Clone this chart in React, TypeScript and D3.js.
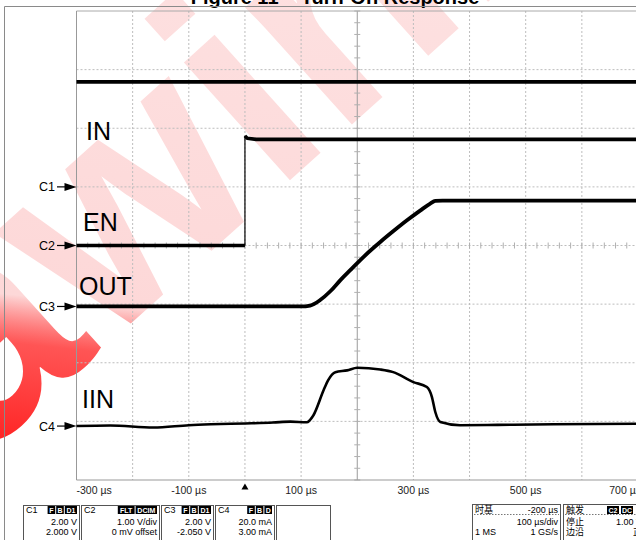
import React from 'react';
import * as d3 from 'd3';

const timeTicks = [-300, -200, -100, 0, 100, 200, 300, 400, 500, 600, 700];
const timeLabels = [-300, -100, 100, 300, 500, 700];

const channelNames = ['C1', 'C2', 'C3', 'C4'];
const channelPerDiv = [2, 1, 2, 20]; // V/div, V/div, V/div, mA/div
const channelZeroDiv = [1.0, 0, -1.04, -3.08]; // zero level, divisions above centre
const traceNames = ['IN', 'EN', 'OUT', 'IIN'];

// IN (C1, V)
const inT = [-300, 700];
const inV = [3.58, 3.58];

// EN (C2, V)
const enLowT = [-300, 0];
const enLowV = [0, 0];
const enHighT = [0, 4, 20, 700];
const enHighV = [1.87, 1.83, 1.81, 1.81];

// OUT (C3, V)
const outT = [-300, 100, 116, 134, 152, 170, 188, 200, 223, 241, 265, 288, 312, 330, 339, 352, 700];
const outV = [0, 0, 0.03, 0.22, 0.52, 0.9, 1.25, 1.48, 1.9, 2.2, 2.58, 2.93, 3.27, 3.51, 3.6, 3.61, 3.61];

// IIN (C4, mA)
const iinT = [-300, -240, -163, -100, -61, 0, 50, 81, 110, 122, 140, 148, 161, 182, 200, 241, 264, 300, 324, 333, 339, 348, 383, 450, 550, 700];
const iinMA = [0, 0.2, -0.5, 0.3, 0.6, 0.9, 1.2, 1.5, 1.3, 3.7, 12.2, 15.6, 18.4, 19.0, 19.9, 19.3, 18.4, 15.0, 13.3, 9.9, 4.8, 1.4, 0.3, 0.4, 0.6, 0.8];

// info panels
const chBadges = [['F', 'B', 'D1'], ['FLT', 'DCIM'], ['F', 'B', 'D1'], ['F', 'B', 'D']];
const chRow2 = ['2.00 V', '1.00 V/div', '2.00 V', '20.0 mA'];
const chRow3 = ['2.000 V', '0 mV offset', '-2.050 V', '3.00 mA'];
const tbRows = [['时基', '-200 µs'], ['', '100 µs/div'], ['1 MS', '1 GS/s']];
const trigRows = [['触发', ''], ['停止', '1.00 V'], ['边沿', '正']];
const trigBadges = ['C2', 'DC'];

const FONT = '"Liberation Sans", Arial, Helvetica, sans-serif';
const CJK = '"Liberation Sans", "Noto Sans CJK SC", sans-serif';

export default function App() {
  const W = 636, H = 540;
  const X0 = 76.5, X1 = 638, Y0 = 11, Y1 = 480;
  const div = (Y1 - Y0) / 8;
  const yc = (Y0 + Y1) / 2;

  const x = d3.scaleLinear().domain([-300, 700]).range([X0, X1]);
  const yScales = channelPerDiv.map((pd, i) => {
    const z = yc - channelZeroDiv[i] * div;
    return d3.scaleLinear().domain([0, pd]).range([z, z - div]);
  });

  const mk = (ts, vs, ch, curve = d3.curveLinear) =>
    d3.line().x((d) => x(d[0])).y((d) => yScales[ch](d[1])).curve(curve)(ts.map((t, i) => [t, vs[i]]));

  const hLines = d3.range(0, 9).map((k) => Y0 + k * div);
  const minorX = d3.range(-300, 701, 20);
  const minorY = d3.range(0, 41).map((k) => Y0 + (k * div) / 5);

  const boxX = [23, 81, 161, 215, 276];
  const boxW = [56, 78, 52, 59, 54];
  const rowY = [512.5, 524.5, 535];

  const badge = (labels, right, y) => {
    let cx = right;
    const out = [];
    for (let i = labels.length - 1; i >= 0; i--) {
      const w = 3 + labels[i].length * 4.6;
      cx -= w;
      out.push(
        <g key={i}>
          <rect x={cx} y={y - 6.5} width={w} height={8} fill="#000" />
          <text x={cx + w / 2} y={y} fontSize={7} fill="#fff" textAnchor="middle" fontWeight="bold">{labels[i]}</text>
        </g>
      );
      cx -= 1;
    }
    return out;
  };

  return (
    <svg width={W} height={H} style={{ position: 'absolute', left: 0, top: 0, background: '#fff' }} fontFamily={FONT}>
      <defs>
        <linearGradient id="wm" gradientUnits="userSpaceOnUse" x1="-20" y1="462" x2="426" y2="61">
          <stop offset="0" stopColor="#ff0000" stopOpacity="0.9" />
          <stop offset="0.2" stopColor="#ff2a2a" stopOpacity="0.8" />
          <stop offset="0.28" stopColor="#fdd8d8" stopOpacity="1" />
          <stop offset="1" stopColor="#fde2e2" stopOpacity="1" />
        </linearGradient>
      </defs>

      {/* watermark */}
      <text x={-23} y={462} transform="rotate(-42 -23 462)" fontSize={300} fontWeight="bold" fill="url(#wm)" fontFamily={FONT}>awinic</text>

      {/* title (cut off at top) */}
      <text x={335} y={3.5} fontSize={20} fontWeight="bold" textAnchor="middle" fill="#000">Figure 11 – Turn-On Response</text>

      {/* outer frame */}
      <line x1={4.5} x2={W} y1={6.5} y2={6.5} stroke="#8a8a8a" />
      <line x1={4.5} x2={4.5} y1={6.5} y2={H} stroke="#8a8a8a" />

      {/* grid */}
      <g stroke="#bdbdbd" strokeWidth={1} strokeDasharray="2,2">
        {timeTicks.slice(1).map((t) => t !== 200 && <line key={t} x1={x(t)} x2={x(t)} y1={Y0} y2={Y1} />)}
        {hLines.slice(1, 8).map((y, i) => <line key={i} x1={X0} x2={X1} y1={y} y2={y} />)}
      </g>
      <line x1={x(200)} x2={x(200)} y1={Y0} y2={Y1} stroke="#9a9a9a" />
      <g stroke="#b0b0b0">
        {minorY.map((y, i) => <line key={i} x1={x(200) - 3} x2={x(200) + 3} y1={y} y2={y} />)}
        {minorX.map((t) => <line key={t} x1={x(t)} x2={x(t)} y1={yc - 3} y2={yc + 3} />)}
      </g>
      <line x1={X0} x2={X1} y1={Y0} y2={Y0} stroke="#aaa" />
      <line x1={X0} x2={X1} y1={Y1} y2={Y1} stroke="#999" />
      <line x1={X0} x2={X0} y1={Y0} y2={Y1} stroke="#999" />

      {/* traces */}
      <g fill="none" stroke="#000" strokeLinejoin="round">
        <path d={mk(inT, inV, 0)} strokeWidth={3.8} />
        <path d={mk(enLowT, enLowV, 1)} strokeWidth={3.4} />
        <line x1={x(enLowT[1])} x2={x(enHighT[0])} y1={yScales[1](enLowV[1])} y2={yScales[1](enHighV[0])} strokeWidth={1.2} />
        <path d={mk(enHighT, enHighV, 1)} strokeWidth={3.6} />
        <path d={mk(outT, outV, 2, d3.curveMonotoneX)} strokeWidth={3.8} />
        <path d={mk(iinT, iinMA, 3, d3.curveMonotoneX)} strokeWidth={2.6} />
      </g>

      {/* trace names */}
      {[
        [86, 139.5],
        [83, 230.5],
        [79, 294.5],
        [82, 408],
      ].map((d, i) => (
        <text key={i} x={d[0]} y={d[1]} fontSize={25} fill="#000">{traceNames[i]}</text>
      ))}

      {/* channel markers */}
      {channelNames.map((c, i) => {
        const y = yScales[i](0);
        return (
          <g key={c}>
            <text x={39} y={y + 4.5} fontSize={12.5} fill="#000">{c}</text>
            <line x1={57} x2={66} y1={y} y2={y} stroke="#000" strokeWidth={1.2} />
            <path d={`M${X0},${y}L${X0 - 12},${y - 4}L${X0 - 12},${y + 4}Z`} fill="#000" />
          </g>
        );
      })}

      {/* time axis labels */}
      {timeLabels.map((t, i) => (
        <text
          key={t}
          x={i === 0 ? X0 : i === timeLabels.length - 1 ? X1 + 3 : x(t)}
          y={494}
          fontSize={10.5}
          fill="#222"
          textAnchor={i === 0 ? 'start' : i === timeLabels.length - 1 ? 'end' : 'middle'}
        >
          {`${t} µs`}
        </text>
      ))}
      <path d={`M${x(0)},${483.5}L${x(0) - 3.5},${489.5}L${x(0) + 3.5},${489.5}Z`} fill="#000" />

      {/* channel info boxes */}
      {boxX.map((bx, i) => (
        <g key={i} fontSize={9} fill="#000">
          <rect x={bx + 0.5} y={505.5} width={boxW[i]} height={40} fill="#fff" stroke="#555" />
          {i < 4 && (
            <>
              <text x={bx + 3} y={rowY[0]}>{channelNames[i]}</text>
              {badge(chBadges[i], bx + boxW[i] - 2, rowY[0])}
              <text x={bx + boxW[i] - 2} y={rowY[1]} textAnchor="end">{chRow2[i]}</text>
              <text x={bx + boxW[i] - 2} y={rowY[2]} textAnchor="end">{chRow3[i]}</text>
            </>
          )}
        </g>
      ))}

      {/* timebase box */}
      <g fontSize={9} fill="#000" fontFamily={CJK}>
        <rect x={472.5} y={504.5} width={88} height={40} fill="#fff" stroke="#555" />
        <line x1={474} x2={559} y1={514.5} y2={514.5} stroke="#777" strokeDasharray="1.5,1.5" />
        {tbRows.map((r, i) => (
          <g key={i}>
            <text x={475} y={rowY[i]}>{r[0]}</text>
            <text x={558} y={rowY[i]} textAnchor="end">{r[1]}</text>
          </g>
        ))}
      </g>

      {/* trigger box */}
      <g fontSize={9} fill="#000" fontFamily={CJK}>
        <rect x={563.5} y={504.5} width={90} height={40} fill="#fff" stroke="#555" />
        <line x1={565} x2={W} y1={514.5} y2={514.5} stroke="#777" strokeDasharray="1.5,1.5" />
        {trigRows.map((r, i) => (
          <g key={i}>
            <text x={566} y={rowY[i]}>{r[0]}</text>
            <text x={642} y={rowY[i]} textAnchor="end">{r[1]}</text>
          </g>
        ))}
        {trigBadges.map((b, i) => (
          <g key={b}>
            <rect x={607 + i * 14} y={rowY[0] - 6.5} width={12} height={8} fill="#000" />
            <text x={613 + i * 14} y={rowY[0]} fontSize={7} fill="#fff" textAnchor="middle" fontWeight="bold">{b}</text>
          </g>
        ))}
      </g>
    </svg>
  );
}
